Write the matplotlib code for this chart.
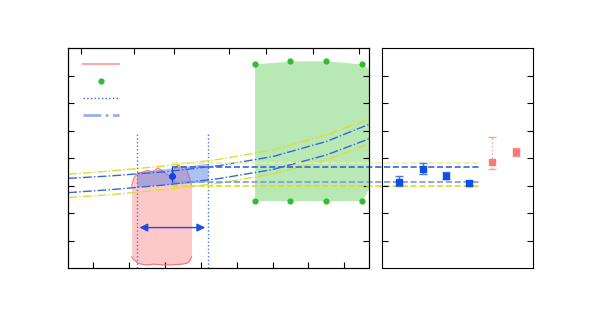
import numpy as np
from matplotlib import pyplot as plt
from matplotlib.lines import Line2D

# --- data ---
# dash-dot model curves (sampled)
curve_x = [0.3, 1.5, 3.0, 4.5, 6.0, 7.5, 8.7]
yellow_hi = [3.41, 3.53, 3.71, 3.95, 4.29, 4.84, 5.41]
blue_hi = [3.26, 3.35, 3.50, 3.72, 4.05, 4.60, 5.23]
blue_lo = [2.74, 2.85, 3.02, 3.25, 3.58, 4.11, 4.70]
yellow_lo = [2.56, 2.67, 2.85, 3.08, 3.42, 3.93, 4.53]

# red measured band
red_x = [2.07, 2.13, 2.24, 2.38, 2.52, 2.66, 2.80, 2.94, 3.08, 3.19, 3.28, 3.36, 3.44, 3.53, 3.61, 3.69, 3.74]
red_top = [2.98, 3.27, 3.45, 3.49, 3.55, 3.49, 3.64, 3.53, 3.38, 3.33, 3.64, 3.75, 3.67, 3.69, 3.56, 3.27, 2.98]
red_bot = [0.41, 0.30, 0.18, 0.13, 0.11, 0.14, 0.13, 0.11, 0.12, 0.11, 0.13, 0.12, 0.14, 0.15, 0.18, 0.25, 0.41]

# blue window band
band_x = [2.21, 4.20]
band_top = [3.48, 3.81]
band_bot = [2.96, 3.14]

# central point
pt_x, pt_y, pt_lo, pt_hi = 3.20, 3.35, 3.14, 3.68

# green region
green_x = [5.5, 6.5, 7.5, 8.5, 9.5]
green_top = [7.42, 7.53, 7.53, 7.42, 6.5]
green_bot = [2.45, 2.45, 2.45, 2.45, 4.86]

# horizontal reference levels
levels = [3.81, 3.66, 3.14, 2.98]
level_colors = ['#eeee99', '#3366dd', '#7799ee', '#dddd22']

# right panel points
rx = [1, 2, 3, 4]
ry = [3.14, 3.59, 3.33, 3.08]
ry_lo = [2.99, 3.41, 3.24, 2.98]
ry_hi = [3.33, 3.81, 3.48, 3.16]
rx_red = [5, 6]
ry_red = [3.85, 4.21]
ry_red_lo = [3.59, 4.08]
ry_red_hi = [4.75, 4.36]

top_ticks = [0.665, 2.133, 3.25, 4.79, 5.83, 7.13, 8.41]

fig = plt.figure(figsize=(6, 3.15), dpi=100)
ax = fig.add_axes([68/600, 47/315, 301/600, 220/315])
ax2 = fig.add_axes([382/600, 47/315, 151/600, 220/315])
ax2.patch.set_alpha(0)

# green region
ax.fill_between(green_x, green_bot, green_top, color='#b8e8b4', lw=0, zorder=1)
ax.scatter(green_x, green_top, s=12, color='#33bb33', zorder=3)
ax.scatter(green_x, green_bot, s=12, color='#33bb33', zorder=3)

# red band
ax.fill_between(red_x, red_bot, red_top, color='#ffc8c8', lw=0, zorder=1)
ax.plot(red_x, red_top, color='#f07878', lw=0.8, zorder=2)
ax.plot(red_x, red_bot, color='#f07878', lw=0.8, zorder=2)

# blue window
ax.fill_between(band_x, band_bot, band_top, color='#5a82e6', alpha=0.5, lw=0, zorder=2)
for xv in band_x:
    ax.plot([xv, xv], [0, 4.92], color='#4477ee', ls=':', lw=1, zorder=3)
ax.annotate('', xy=(band_x[0], 1.47), xytext=(band_x[1], 1.47),
            arrowprops=dict(arrowstyle='<|-|>', color='#1a4fe0', lw=1, mutation_scale=12))

# model curves
ax.plot(curve_x, yellow_hi, color='#dddd33', ls='-.', lw=1, zorder=3)
ax.plot(curve_x, yellow_lo, color='#dddd33', ls='-.', lw=1, zorder=3)
ax.plot(curve_x, blue_hi, color='#3366dd', ls='-.', lw=1, zorder=3)
ax.plot(curve_x, blue_lo, color='#3366dd', ls='-.', lw=1, zorder=3)

# horizontal levels across both panels
for lv, c in zip(levels, level_colors):
    ax.plot([pt_x, 11.77], [lv, lv], color=c, ls='--', lw=1.2, clip_on=False, zorder=4)

ax.errorbar([pt_x], [pt_y], yerr=[[pt_y - pt_lo], [pt_hi - pt_y]], fmt='o', ms=4,
            color='#1044dd', lw=1, capsize=0, zorder=5)

ax.set_xlim(0.295, 8.69)
ax.set_ylim(0, 8)
ax.set_xticks(range(1, 9))
ax.set_yticks(range(1, 8))
ax.set_xticklabels([])
ax.set_yticklabels([])
ax.tick_params(direction='in', length=4.5, width=0.8, top=False, right=True)
axt = ax.twiny()
axt.set_xlim(ax.get_xlim())
axt.set_xticks(top_ticks)
axt.set_xticklabels([])
axt.tick_params(direction='in', length=4.5, width=0.8)

handles = [Line2D([], [], color='#ffa8a8', lw=1.5),
           Line2D([], [], color='#33bb33', marker='o', ms=3.5, ls='none'),
           Line2D([], [], color='#3366dd', ls=':', lw=1),
           Line2D([], [], color='#99b0ee', ls='-.', lw=2)]
ax.legend(handles, ['', '', '', ''], loc='upper left', bbox_to_anchor=(0.015, 1.0),
          frameon=False, handlelength=2.95, labelspacing=0.34, fontsize=9,
          borderaxespad=0.4, handletextpad=0)

# right panel
ax2.errorbar(rx, ry, yerr=[np.subtract(ry, ry_lo), np.subtract(ry_hi, ry)], fmt='s', ms=4.5,
             color='#1050e0', ecolor='#4a7ae8', lw=1, capsize=3, zorder=5)
for i in range(len(rx_red)):
    eb = ax2.errorbar([rx_red[i]], [ry_red[i]],
                      yerr=[[ry_red[i] - ry_red_lo[i]], [ry_red_hi[i] - ry_red[i]]],
                      fmt='s', ms=5, color='#f77a7a', ecolor='#f8a0a0', lw=1, capsize=3,
                      zorder=5)
    if i == 0:
        eb[2][0].set_linestyle(':')
ax2.set_xlim(0.258, 6.74)
ax2.set_ylim(0, 8)
ax2.set_xticks([])
ax2.set_yticks(range(1, 8))
ax2.set_yticklabels([])
ax2.tick_params(direction='in', length=4.5, width=0.8, left=True, right=True)

fig.savefig('out.png', dpi=100)
